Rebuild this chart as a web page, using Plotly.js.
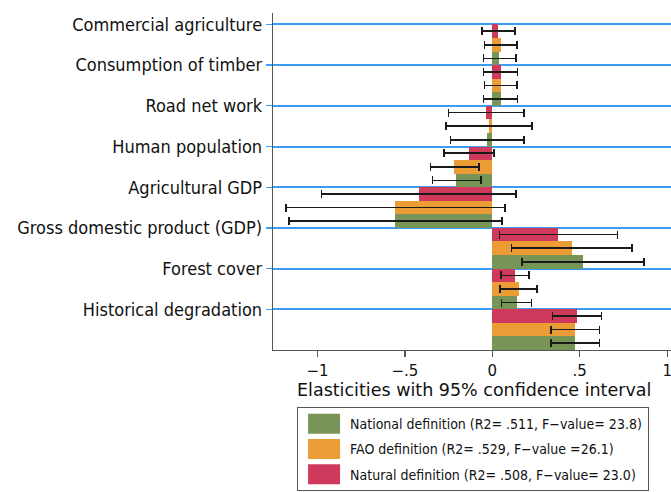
<!DOCTYPE html>
<html>
<head>
<meta charset="utf-8">
<script src="https://cdn.plot.ly/plotly-3.0.1.min.js"></script>
<style>html,body{margin:0;padding:0;background:#fff;}#chart{width:671px;height:492px;}</style>
</head>
<body>
<div id="chart"></div>
<script>
// Categories, top to bottom
const categories = ["Commercial agriculture", "Consumption of timber", "Road net work", "Human population",
  "Agricultural GDP", "Gross domestic product (GDP)", "Forest cover", "Historical degradation"];

const nationalName = "National definition (R2= .511, F\u2212value= 23.8)";
const faoName = "FAO definition (R2= .529, F\u2212value =26.1)";
const naturalName = "Natural definition (R2= .508, F\u2212value= 23.0)";

const xTitle = "Elasticities with 95% confidence interval";

const national   = [0.040, 0.050, -0.029, -0.206, -0.555, 0.517, 0.140, 0.475];
const nationalLo = [-0.051, -0.050, -0.240, -0.343, -1.163, 0.168, 0.053, 0.334];
const nationalHi = [0.136, 0.143, 0.180, -0.065, 0.054, 0.866, 0.225, 0.614];

const fao   = [0.050, 0.050, -0.017, -0.217, -0.555, 0.454, 0.151, 0.475];
const faoLo = [-0.045, -0.045, -0.265, -0.355, -1.182, 0.109, 0.044, 0.334];
const faoHi = [0.142, 0.142, 0.227, -0.076, 0.073, 0.799, 0.256, 0.614];

const natural   = [0.034, 0.050, -0.036, -0.133, -0.421, 0.376, 0.130, 0.482];
const naturalLo = [-0.059, -0.050, -0.250, -0.278, -0.978, 0.040, 0.050, 0.343];
const naturalHi = [0.130, 0.143, 0.180, 0.011, 0.134, 0.715, 0.210, 0.625];

const xTickVals = [-1, -0.5, 0, 0.5, 1];
const xTickText = ["\u22121", "\u2212.5", "0", ".5", "1"];

const n = categories.length;
const ypos = categories.map((c, i) => n - 1 - i);
const labelPos = ypos.map(v => v + 0.5);

const FONT = "'DejaVu Sans Condensed', 'DejaVu Sans', Verdana, sans-serif";
const FONT_REG = "'DejaVu Sans', Verdana, sans-serif";

function trace(name, vals, lo, hi, color, grp) {
  return {
    type: 'bar', orientation: 'h', name: name,
    x: vals, y: ypos, legendgroup: grp,
    marker: {color: color, line: {width: 0}},
    error_x: {type: 'data', symmetric: false,
      array: hi.map((h, i) => h - vals[i]),
      arrayminus: lo.map((l, i) => vals[i] - l),
      color: '#1a1a1a', thickness: 1.6, width: 4},
    hoverinfo: 'x+name'
  };
}

const data = [
  trace(nationalName, national, nationalLo, nationalHi, '#779557', 'a'),
  trace(faoName, fao, faoLo, faoHi, '#ec9c34', 'b'),
  trace(naturalName, natural, naturalLo, naturalHi, '#cf3a5c', 'c')
];

const layout = {
  width: 671, height: 492,
  margin: {l: 273, r: 0, t: 13, b: 142},
  paper_bgcolor: '#ffffff', plot_bgcolor: '#ffffff',
  font: {family: FONT, color: '#111'},
  barmode: 'group', bargap: 0, bargroupgap: 0,
  showlegend: true,
  legend: {
    xref: 'paper', yref: 'container',
    x: 0.06, y: 1 - 407 / 492, xanchor: 'left', yanchor: 'top',
    bordercolor: '#555', borderwidth: 1.2,
    font: {size: 14, color: '#111', family: FONT},
    traceorder: 'grouped', tracegroupgap: 4,
    itemwidth: 42
  },
  annotations: [{
    text: xTitle, xref: 'paper', yref: 'paper',
    x: 0.506, y: -0.1187, xanchor: 'center', yanchor: 'middle',
    showarrow: false, font: {size: 17.5, family: FONT_REG, color: '#111'}
  }],
  xaxis: {
    range: [-1.255, 1.022],
    tickvals: xTickVals, ticktext: xTickText,
    ticks: 'outside', ticklen: 6, tickwidth: 1.3, tickcolor: '#555',
    ticklabelstandoff: 1, ticklabeloverflow: 'allow',
    showgrid: false, zeroline: false,
    showline: true, linecolor: '#555', linewidth: 1.3,
    tickfont: {size: 15, family: FONT_REG}
  },
  yaxis: {
    range: [-0.5, 7.78],
    tickvals: labelPos, ticktext: categories,
    ticks: 'outside', ticklen: 6, tickwidth: 1.3, tickcolor: '#3c9cf5',
    showgrid: true, gridcolor: '#3c9cf5', gridwidth: 2,
    zeroline: false,
    showline: true, linecolor: '#555', linewidth: 1.3,
    tickfont: {size: 18}
  }
};

function bigSwatches(gd) {
  // Larger rectangular legend swatches, as in the original figure
  gd.querySelectorAll('.legend .legendpoints path').forEach(function (p) {
    p.setAttribute('d', 'M16,10H-16V-10H16Z');
  });
}

Plotly.newPlot('chart', data, layout, {displayModeBar: false, staticPlot: true}).then(function (gd) {
  bigSwatches(gd);
  setTimeout(function () { bigSwatches(gd); }, 50);
});
</script>
</body>
</html>
